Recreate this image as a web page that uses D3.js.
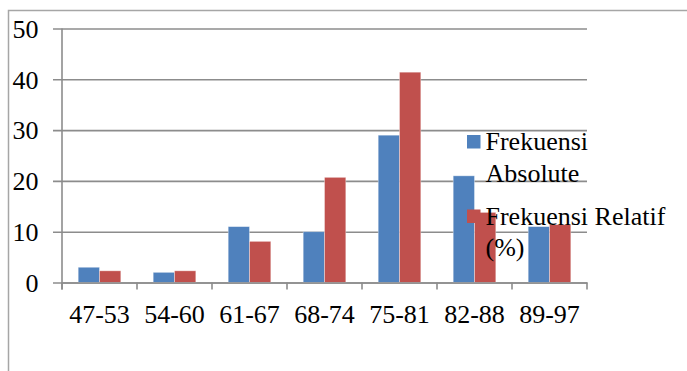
<!DOCTYPE html>
<html>
<head>
<meta charset="utf-8">
<script src="https://cdn.jsdelivr.net/npm/d3@7"></script>
<style>
  body { margin: 0; background: #fff; }
  svg text { font-family: "Liberation Serif", "Times New Roman", Times, "DejaVu Serif", serif !important; }
</style>
</head>
<body>
<div class="box"></div>
<script>
// DATA
const categories = ['47-53', '54-60', '61-67', '68-74', '75-81', '82-88', '89-97'];
const absolute = [3, 2, 11, 10, 29, 21, 11];
const relatif = [2.3, 2.3, 8.1, 20.7, 41.4, 13.8, 11.4];
const yTicks = [0, 10, 20, 30, 40, 50];
const seriesNames = ['Frekuensi Absolute', 'Frekuensi Relatif (%)'];
const colors = ['#4f81bd', '#c0504d'];

// SETUP
const svg = d3.select('.box')
              .append('svg')
              .attr('width', 687)
              .attr('height', 371);

// outer frame (only left and top edge visible)
svg.append('path')
   .attr('d', 'M8.5,371 V10.5 H687')
   .attr('fill', 'none')
   .attr('stroke', '#a6a6a6')
   .attr('stroke-width', 1.5);

const plot = {left: 62, right: 587, top: 28.5, bottom: 282.5};

const y = d3.scaleLinear()
            .domain([0, 50])
            .range([plot.bottom, plot.top]);

const x = d3.scaleBand()
            .domain(categories)
            .range([plot.left, plot.right]);

const inner = d3.scaleBand()
                .domain([0, 1])
                .range([0, x.bandwidth()])
                .paddingOuter(0.76)
                .paddingInner(0);

// gridlines + y axis
const axeY = d3.axisLeft(y)
               .tickValues(yTicks)
               .tickSize(-(plot.right - plot.left))
               .tickPadding(0);

const gY = svg.append('g')
              .attr('transform', `translate(${plot.left}, 0)`)
              .call(axeY);
gY.select('.domain').remove();
gY.selectAll('.tick line')
  .attr('stroke', '#8c8c8c')
  .attr('stroke-width', 1.6)
  .attr('x1', -9);
gY.selectAll('.tick text')
  .attr('x', -23.5)
  .attr('dy', '0.34em')
  .attr('fill', '#000')
  .style('font-size', '26px');

// bars
const groups = svg.append('g')
                  .selectAll('g')
                  .data(categories)
                  .enter()
                  .append('g')
                  .attr('transform', d => `translate(${x(d)}, 0)`);

groups.selectAll('rect')
      .data((d, i) => [absolute[i], relatif[i]])
      .enter()
      .append('rect')
      .attr('x', (d, j) => inner(j))
      .attr('width', inner.bandwidth())
      .attr('y', d => y(d))
      .attr('height', d => plot.bottom - y(d))
      .attr('fill', (d, j) => colors[j])
      .attr('stroke', 'rgba(255,255,255,0.45)')
      .attr('stroke-width', 0.8);

// y axis line
svg.append('line')
   .attr('x1', plot.left).attr('x2', plot.left)
   .attr('y1', plot.top).attr('y2', plot.bottom + 7)
   .attr('stroke', '#8c8c8c')
   .attr('stroke-width', 1.6);

// x axis
const axeX = d3.axisBottom(x).tickSize(0).tickPadding(0);
const gX = svg.append('g')
              .attr('transform', `translate(0, ${plot.bottom})`)
              .call(axeX);
gX.select('.domain')
  .attr('stroke', '#8c8c8c')
  .attr('stroke-width', 1.6);
gX.selectAll('.tick text')
  .attr('y', 40)
  .attr('dy', 0)
  .attr('fill', '#000')
  .style('font-size', '26px');

// tick marks on band boundaries
svg.append('g')
   .selectAll('line')
   .data(categories.concat(['end']))
   .enter()
   .append('line')
   .attr('x1', (d, i) => i < categories.length ? x(d) : plot.right)
   .attr('x2', (d, i) => i < categories.length ? x(d) : plot.right)
   .attr('y1', plot.bottom)
   .attr('y2', plot.bottom + 7)
   .attr('stroke', '#8c8c8c')
   .attr('stroke-width', 1.6);

// legend (text wraps on two lines each)
const legendLines = [['Frekuensi', 'Absolute'], ['Frekuensi Relatif', '(%)']];
const legend = svg.append('g');
const entries = legend.selectAll('g')
                      .data(seriesNames)
                      .enter()
                      .append('g')
                      .attr('transform', (d, i) => `translate(467, ${150 + i * 74.5})`);

entries.append('rect')
       .attr('x', 0)
       .attr('y', -15)
       .attr('width', 13.5)
       .attr('height', 13.5)
       .attr('fill', (d, i) => colors[i]);

entries.append('text')
       .attr('x', 18.5)
       .style('font-size', '26px')
       .attr('fill', '#000')
       .selectAll('tspan')
       .data((d, i) => legendLines[i])
       .enter()
       .append('tspan')
       .attr('x', 18.5)
       .attr('y', (d, k) => k * 31.5)
       .text(d => d);
</script>
</body>
</html>
